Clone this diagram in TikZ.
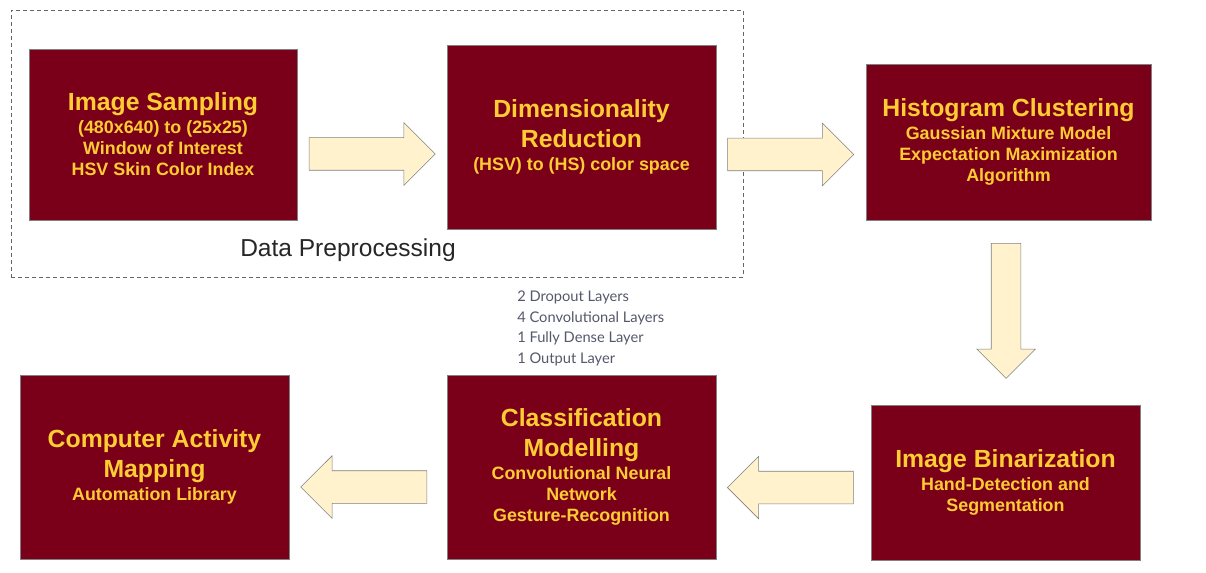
\documentclass[tikz,border=0pt]{standalone}
\usepackage{fontspec}
\setmainfont{Liberation Sans}
\newfontfamily\notefont{Lato}
\usetikzlibrary{shapes.arrows}
\definecolor{maroon}{HTML}{7A0019}
\definecolor{gold}{HTML}{FFCC33}
\definecolor{arrowfill}{HTML}{FFF2CC}
\definecolor{edgegray}{HTML}{808080}
\definecolor{notegray}{HTML}{55586A}
\newcommand{\ttl}{\fontsize{18.6}{22.5}\selectfont}
\newcommand{\sbt}{\fontsize{13.4}{22.5}\selectfont}
% title->subtitle and subtitle->subtitle breaks
\newcommand{\tsbreak}{\\[-5.25pt]}
\newcommand{\ssbreak}{\\[-6.75pt]}

\begin{document}
\begin{tikzpicture}[x=0.75pt,y=-0.75pt,
  stage/.style={draw=edgegray,fill=maroon,text=gold,font=\bfseries\fontsize{13.4}{22.5}\selectfont,
    align=center,inner sep=0pt},
  flow/.style={single arrow,draw=edgegray,fill=arrowfill,inner sep=12pt,
    single arrow head extend=11.25pt,minimum width=46.5pt,minimum height=94.5pt},
  group/.style={draw=black!60,dash pattern=on 3pt off 2.25pt,inner sep=0pt},
  note/.style={font=\notefont\fontsize{11}{12}\selectfont,text=notegray,inner sep=0pt}]
  \useasboundingbox (0,0) rectangle (1206,573);

  % preprocessing frame
  \node[group,minimum width=549pt,minimum height=200.25pt] (prep) at (377,143.5) {};
  \node[anchor=base,font=\fontsize{18.4}{22}\selectfont,text=black!85] (preplabel) at (348,257) {Data Preprocessing};

  \node[stage,minimum width=201pt,minimum height=128.25pt] (sampling) at (163,134.5)
    {\ttl Image Sampling\tsbreak\sbt (480x640) to (25x25)\ssbreak\sbt Window of Interest\ssbreak\sbt HSV Skin Color Index};
  \node[stage,minimum width=201.75pt,minimum height=138pt] (dimred) at (581.5,137)
    {\ttl Dimensionality\\\ttl Reduction\tsbreak\sbt (HSV) to (HS) color space};
  \node[stage,minimum width=213.75pt,minimum height=117pt] (cluster) at (1008.5,142)
    {\ttl Histogram Clustering\tsbreak\sbt Gaussian Mixture Model\ssbreak\sbt Expectation Maximization\ssbreak\sbt Algorithm};
  \node[stage,minimum width=201.75pt,minimum height=116.25pt] (binar) at (1005.5,482.5)
    {\ttl Image Binarization\tsbreak\sbt Hand-Detection and\ssbreak\sbt Segmentation};
  \node[stage,minimum width=201.75pt,minimum height=138pt] (classif) at (581.5,467)
    {\ttl Classification\\\ttl Modelling\tsbreak\sbt Convolutional Neural\ssbreak\sbt Network\ssbreak\sbt Gesture-Recognition};
  \node[stage,minimum width=201.75pt,minimum height=138pt] (mapping) at (154.5,467)
    {\ttl Computer Activity\\\ttl Mapping\tsbreak\sbt Automation Library};

  % block arrows between the stages
  \node[flow] (a1) at (364,154) {};
  \node[flow] (a2) at (782.5,154.5) {};
  \node[flow,shape border rotate=270,inner sep=10.875pt,minimum width=43.5pt,minimum height=101.25pt,
    single arrow head extend=10.9pt] (a3) at (1006,303.5) {};
  \node[flow,shape border rotate=180] (a4) at (798.5,487.5) {};
  \node[flow,shape border rotate=180] (a5) at (372,487) {};

  % network layers
  \foreach \lyr [count=\i] in {2 Dropout Layers,4 Convolutional Layers,1 Fully Dense Layer,1 Output Layer}
    \node[note,anchor=base west] (layer\i) at (517,{301.7+20.5*(\i-1)}) {\lyr};
\end{tikzpicture}
\end{document}
